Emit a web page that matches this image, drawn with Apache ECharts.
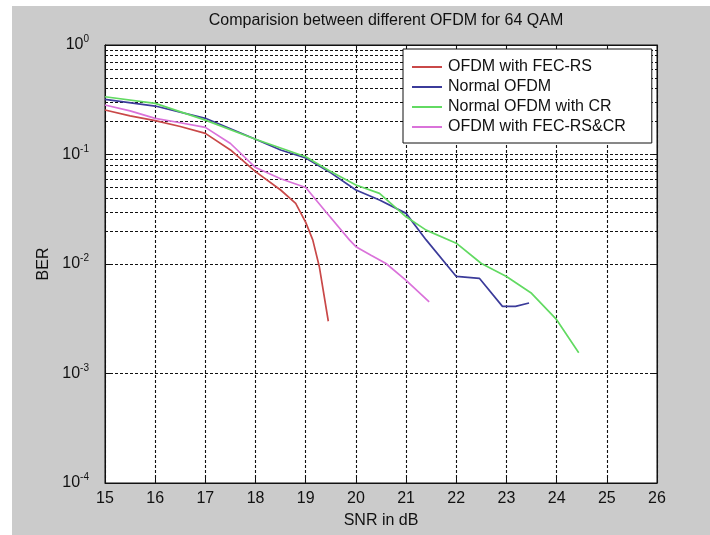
<!DOCTYPE html>
<html>
<head>
<meta charset="utf-8">
<script src="https://cdn.jsdelivr.net/npm/echarts@6/dist/echarts.min.js"></script>
<style>
html,body{margin:0;padding:0;background:#fff;}
#c{width:710px;height:535px;}
</style>
</head>
<body>
<div id="c"></div>
<script>
// ---- data ----
const titleText = 'Comparision between different OFDM for 64 QAM';
const xTickLabels = [15, 16, 17, 18, 19, 20, 21, 22, 23, 24, 25, 26];
const yDecades = [-4, -3, -2, -1, 0];
const seriesNames = ['OFDM with FEC-RS', 'Normal OFDM', 'Normal OFDM with CR', 'OFDM with FEC-RS&CR'];

const fecRsSnr = [15, 15.5, 16, 16.5, 17, 17.5, 18, 18.5, 18.8, 19, 19.14, 19.27, 19.45];
const fecRsBer = [0.255, 0.225, 0.204, 0.18, 0.156, 0.11, 0.0697, 0.0474, 0.0358, 0.024, 0.0166, 0.0095, 0.003];

const normalSnr = [15, 16, 17, 18, 18.5, 19, 19.5, 20, 20.47, 21, 21.4, 22, 22.46, 22.92, 23.18, 23.45];
const normalBer = [0.319, 0.277, 0.214, 0.138, 0.11, 0.093, 0.068, 0.0474, 0.0384, 0.029, 0.0166, 0.0077, 0.0074, 0.0041, 0.0041, 0.0044];

const crSnr = [15, 16, 17, 18, 19, 19.47, 20, 20.47, 21, 21.4, 22, 22.5, 23, 23.5, 24, 24.44];
const crBer = [0.337, 0.293, 0.206, 0.138, 0.0955, 0.071, 0.0526, 0.0442, 0.027, 0.0204, 0.0155, 0.0101, 0.0077, 0.0054, 0.0031, 0.00155];

const fecRsCrSnr = [15, 15.5, 16, 16.5, 17, 17.5, 18, 18.5, 19, 19.4, 19.87, 20, 20.3, 20.6, 21, 21.46];
const fecRsCrBer = [0.283, 0.25, 0.214, 0.195, 0.177, 0.126, 0.076, 0.06, 0.05, 0.03, 0.0166, 0.0144, 0.012, 0.0101, 0.0071, 0.0045];

const colors = ['#c94848', '#3b3b9a', '#62da62', '#da72da'];

// ---- build ----
const zip = (xs, ys) => xs.map((x, i) => [x, ys[i]]);
const seriesData = [
  zip(fecRsSnr, fecRsBer),
  zip(normalSnr, normalBer),
  zip(crSnr, crBer),
  zip(fecRsCrSnr, fecRsCrBer)
];

// minor log grid values (2..9 x 10^k)
const minorVals = [];
for (let k = -4; k < 0; k++) for (let m = 2; m <= 9; m++) minorVals.push(m * Math.pow(10, k));

const FONT = 'Liberation Sans';
const gridStyle = { color: '#111', width: 1.1, type: [3, 2] };

const chart = echarts.init(document.getElementById('c'), null, { renderer: 'canvas' });

const series = seriesData.map((d, i) => ({
  name: seriesNames[i],
  type: 'line',
  data: d,
  showSymbol: false,
  symbol: 'none',
  z: 5,
  lineStyle: { color: colors[i], width: 1.7 },
  itemStyle: { color: colors[i] },
  animation: false
}));

// helper series carrying the minor horizontal grid lines
series.push({
  name: '_grid',
  type: 'line',
  data: [],
  z: 1,
  silent: true,
  animation: false,
  markLine: {
    silent: true,
    z: 1,
    symbol: ['none', 'none'],
    label: { show: false },
    lineStyle: gridStyle,
    animation: false,
    data: minorVals.map(v => ({ yAxis: v }))
  }
});

chart.setOption({
  backgroundColor: '#ffffff',
  animation: false,
  graphic: [{
    type: 'rect',
    z: -10,
    shape: { x: 12, y: 6, width: 698, height: 529 },
    style: { fill: '#cbcbcb' },
    silent: true
  }],
  title: {
    text: titleText,
    left: 381,
    textAlign: 'center',
    top: 8,
    textStyle: { fontFamily: FONT, fontSize: 16, fontWeight: 'normal', color: '#111' }
  },
  legend: {
    data: seriesNames,
    orient: 'vertical',
    left: 403,
    top: 49,
    z: 20,
    icon: 'rect',
    itemWidth: 30,
    itemHeight: 2,
    itemGap: 4,
    backgroundColor: '#ffffff',
    borderColor: '#111',
    borderWidth: 1,
    borderRadius: 0,
    padding: [10, 26, 8, 9],
    textStyle: { fontFamily: FONT, fontSize: 16, lineHeight: 16, color: '#111', padding: [0, 0, 0, 1] }
  },
  grid: { left: 105, right: 53, top: 45, bottom: 52, show: true, backgroundColor: '#ffffff', borderColor: '#111', borderWidth: 1 },
  xAxis: [{
    type: 'value',
    min: 15,
    max: 26,
    interval: 1,
    name: 'SNR in dB',
    nameLocation: 'middle',
    nameGap: 30,
    nameTextStyle: { fontFamily: FONT, fontSize: 16, color: '#111' },
    axisLine: { show: true, lineStyle: { color: '#111', width: 1 } },
    axisTick: { show: true, inside: true, length: 6, lineStyle: { color: '#111' } },
    axisLabel: { fontFamily: FONT, fontSize: 16, color: '#111', margin: 8,
      formatter: v => (xTickLabels.indexOf(v) >= 0 ? String(v) : '') },
    splitLine: { show: true, lineStyle: gridStyle }
  }, {
    type: 'value', position: 'top', min: 15, max: 26, interval: 1,
    axisLine: { show: true, lineStyle: { color: '#111' } },
    axisTick: { show: true, inside: true, length: 6, lineStyle: { color: '#111' } },
    axisLabel: { show: false }, splitLine: { show: false }
  }],
  yAxis: [{
    type: 'log',
    logBase: 10,
    min: Math.pow(10, yDecades[0]),
    max: Math.pow(10, yDecades[yDecades.length - 1]),
    name: 'BER',
    nameLocation: 'middle',
    nameGap: 44,
    nameTextStyle: { fontFamily: FONT, fontSize: 16, color: '#111' },
    axisLine: { show: true, lineStyle: { color: '#111' } },
    axisTick: { show: true, inside: true, length: 6, lineStyle: { color: '#111' } },
    axisLabel: {
      margin: 16,
      formatter: v => {
        const e = Math.round(Math.log10(v));
        return '{b|10}{s|' + e + '}';
      },
      rich: {
        b: { fontFamily: FONT, fontSize: 16, color: '#111' },
        s: { fontFamily: FONT, fontSize: 10, color: '#111', padding: [0, 0, 11, 0] }
      }
    },
    splitLine: { show: true, lineStyle: gridStyle }
  }, {
    type: 'log', logBase: 10, position: 'right',
    min: Math.pow(10, yDecades[0]),
    max: Math.pow(10, yDecades[yDecades.length - 1]),
    axisLine: { show: true, lineStyle: { color: '#111' } },
    axisTick: { show: true, inside: true, length: 6, lineStyle: { color: '#111' } },
    axisLabel: { show: false }, splitLine: { show: false }
  }],
  series: series
});
</script>
</body>
</html>
